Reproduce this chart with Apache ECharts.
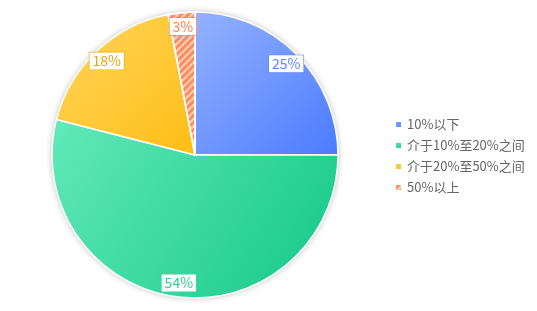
<!DOCTYPE html>
<html>
<head>
<meta charset="utf-8">
<script src="https://cdn.jsdelivr.net/npm/echarts@6/dist/echarts.min.js"></script>
<style>html,body{margin:0;padding:0;background:#fff;}#c{width:537px;height:311px;}</style>
</head>
<body>
<div id="c"></div>
<script>
var categories = ['10%以下', '介于10%至20%之间', '介于20%至50%之间', '50%以上'];
var values = [25, 54, 18, 3];
var colorsLight = ['#95b2ff', '#62e9ba', '#ffd65e', '#ff8d5c'];
var colorsDark = ['#4a7bff', '#14c886', '#ffbd14', '#ff8d5c'];
var labelColors = ['#5a86ff', '#2fcf94', '#e2a90a', '#ff7c4c'];

function grad(i) {
  return new echarts.graphic.LinearGradient(0, 0, 1, 1, [
    {offset: 0, color: colorsLight[i]},
    {offset: 1, color: colorsDark[i]}
  ]);
}

var mainData = categories.map(function (n, i) {
  var d = {name: n, value: values[i], itemStyle: {color: grad(i)}};
  if (i === 3) {
    d.itemStyle.decal = {
      symbol: 'rect',
      color: 'rgba(255,255,255,0.6)',
      dashArrayX: [1, 0],
      dashArrayY: [2, 3],
      rotation: -Math.PI / 4
    };
  }
  return d;
});

var labelData = categories.map(function (n, i) {
  return {
    name: n, value: values[i],
    label: {color: labelColors[i], borderColor: labelColors[i]}
  };
});

var chart = echarts.init(document.getElementById('c'), null, {renderer: 'canvas'});
chart.setOption({
  animation: false,
  aria: {enabled: false},
  textStyle: {fontFamily: '"Noto Sans CJK SC", "Noto Sans", sans-serif'},
  legend: {
    orient: 'vertical',
    left: 389,
    top: 113,
    itemWidth: 7,
    itemHeight: 7,
    itemGap: 8,
    icon: 'rect',
    data: categories,
    textStyle: {fontSize: 13, color: '#666', fontFamily: '"Noto Sans CJK SC", sans-serif'}
  },
  series: [
    {
      type: 'pie',
      center: [195, 155],
      radius: [0, 143],
      silent: true,
      legendHoverLink: false,
      label: {show: false},
      labelLine: {show: false},
      emphasis: {disabled: true},
      itemStyle: {
        color: '#fff',
        shadowBlur: 6,
        shadowColor: 'rgba(0,0,0,0.3)'
      },
      data: [{name: '', value: 1}]
    },
    {
      type: 'pie',
      center: [195, 155],
      radius: [0, 143],
      startAngle: 90,
      clockwise: true,
      label: {show: false},
      labelLine: {show: false},
      emphasis: {disabled: true},
      itemStyle: {
        borderColor: '#fff',
        borderWidth: 1.5
      },
      data: mainData
    },
    {
      type: 'pie',
      center: [195, 155],
      radius: [109, 143],
      startAngle: 90,
      clockwise: true,
      silent: true,
      legendHoverLink: false,
      emphasis: {disabled: true},
      itemStyle: {color: 'rgba(0,0,0,0)', borderWidth: 0},
      labelLine: {show: false},
      label: {
        show: true,
        position: 'inside',
        formatter: '{c}%',
        fontSize: 14,
        backgroundColor: '#fff',
        borderWidth: 0.6,
        padding: [2, 3, 1, 3],
        fontFamily: '"Noto Sans CJK SC", sans-serif'
      },
      data: labelData
    }
  ]
});
</script>
</body>
</html>
